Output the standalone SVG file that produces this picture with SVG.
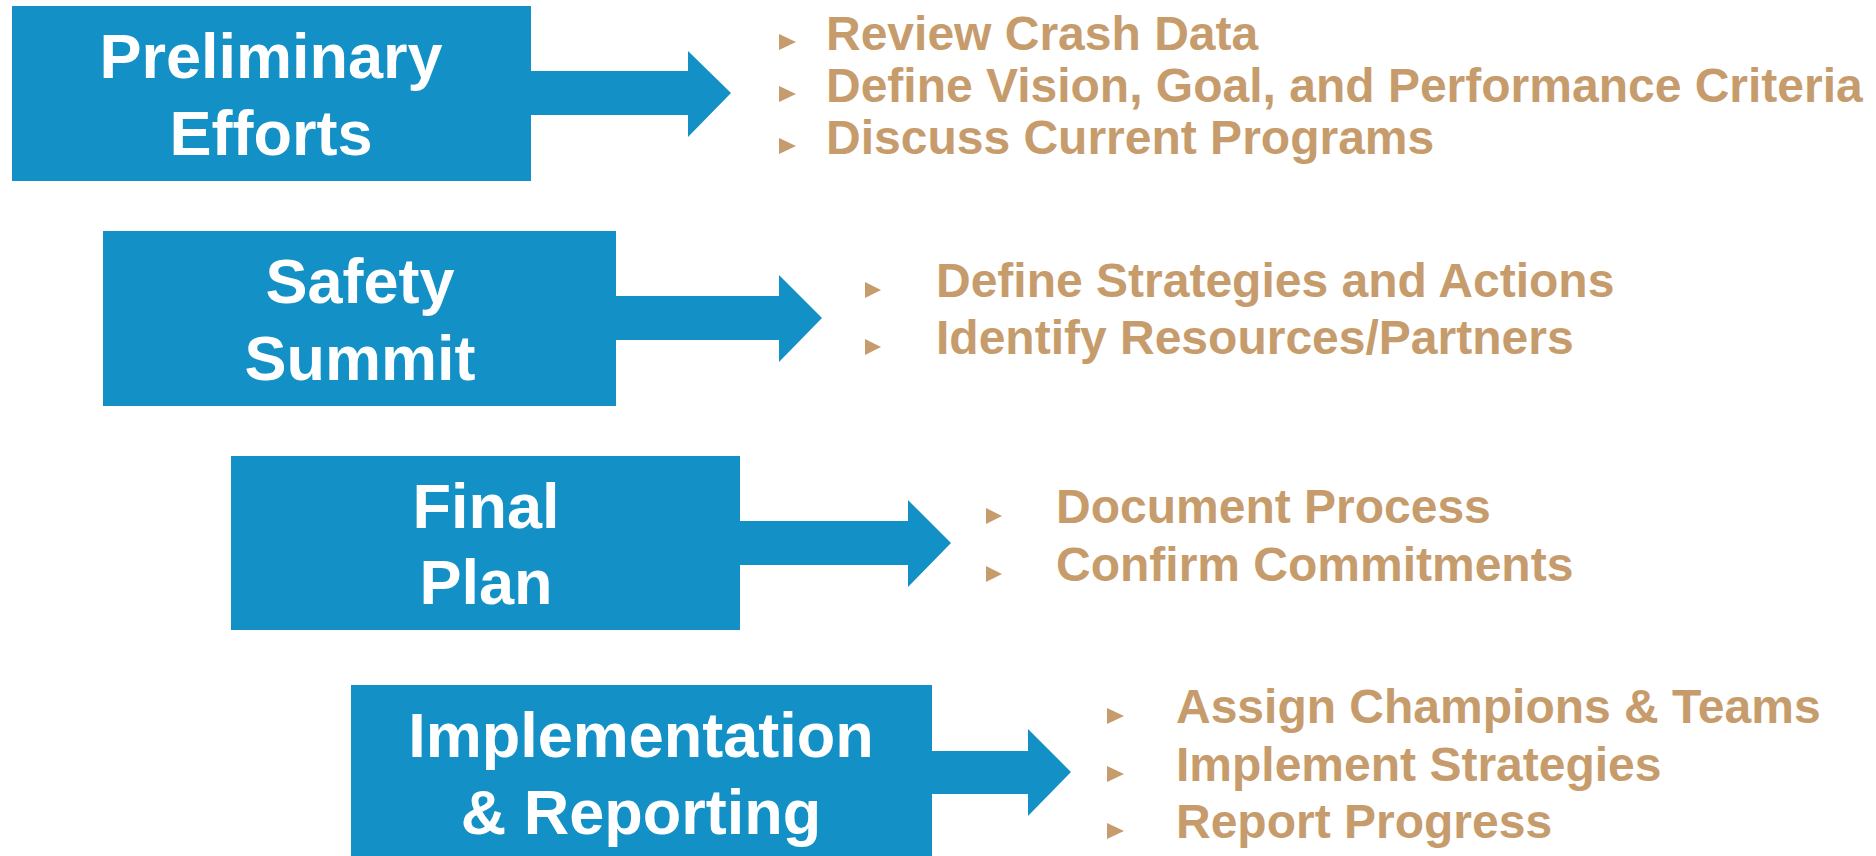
<svg xmlns="http://www.w3.org/2000/svg" width="1876" height="856" viewBox="0 0 1876 856">
<style>
.box{fill:#1390C6}
.arr{fill:#1390C6}
.bt{font-family:"Liberation Sans",Arial,sans-serif;font-weight:bold;font-size:63px;fill:#FFFFFF;text-anchor:middle}
.it{font-family:"Liberation Sans",Arial,sans-serif;font-weight:bold;font-size:48px;fill:#C69C6D}
.bul{fill:#C69C6D}
</style>
<rect width="1876" height="856" fill="#FFFFFF"/>
<g id="node-preliminary">
<rect class="box" x="12" y="6" width="519" height="175"/>
<text class="bt" x="271" y="78">Preliminary</text>
<text class="bt" x="271" y="155">Efforts</text>
</g>
<g id="node-summit">
<rect class="box" x="103" y="231" width="513" height="175"/>
<text class="bt" x="360" y="303">Safety</text>
<text class="bt" x="360" y="380">Summit</text>
</g>
<g id="node-final">
<rect class="box" x="231" y="456" width="509" height="174"/>
<text class="bt" x="486" y="528">Final</text>
<text class="bt" x="486" y="604">Plan</text>
</g>
<g id="node-implementation">
<rect class="box" x="351" y="685" width="581" height="180"/>
<text class="bt" x="641" y="757">Implementation</text>
<text class="bt" x="641" y="834">&amp; Reporting</text>
</g>
<g id="connectors">
<polygon class="arr" points="530,71 688,71 688,51 731,93 688,137 688,115 530,115"/>
<polygon class="arr" points="615,296 779,296 779,275 822,318 779,362 779,340 615,340"/>
<polygon class="arr" points="739,521 908,521 908,500 951,543 908,587 908,565 739,565"/>
<polygon class="arr" points="931,751 1028,751 1028,729 1071,772 1028,816 1028,794 931,794"/>
</g>
<g id="list-preliminary">
<polygon class="bul" points="779,34 796,42 779,50"/>
<polygon class="bul" points="779,86 796,94 779,102"/>
<polygon class="bul" points="779,138 796,146 779,154"/>
<text class="it" x="826" y="50">Review Crash Data</text>
<text class="it" x="826" y="102">Define Vision, Goal, and Performance Criteria</text>
<text class="it" x="826" y="154">Discuss Current Programs</text>
</g>
<g id="list-summit">
<polygon class="bul" points="865,282 881,290 865,298"/>
<polygon class="bul" points="865,339 881,347 865,355"/>
<text class="it" x="936" y="297">Define Strategies and Actions</text>
<text class="it" x="936" y="354">Identify Resources/Partners</text>
</g>
<g id="list-final">
<polygon class="bul" points="986,508 1002,516 986,524"/>
<polygon class="bul" points="986,566 1002,574 986,582"/>
<text class="it" x="1056" y="523">Document Process</text>
<text class="it" x="1056" y="581">Confirm Commitments</text>
</g>
<g id="list-implementation">
<polygon class="bul" points="1107,708 1124,716 1107,724"/>
<polygon class="bul" points="1107,766 1124,774 1107,782"/>
<polygon class="bul" points="1107,823 1124,831 1107,839"/>
<text class="it" x="1176" y="723">Assign Champions &amp; Teams</text>
<text class="it" x="1176" y="781">Implement Strategies</text>
<text class="it" x="1176" y="838">Report Progress</text>
</g>
</svg>
